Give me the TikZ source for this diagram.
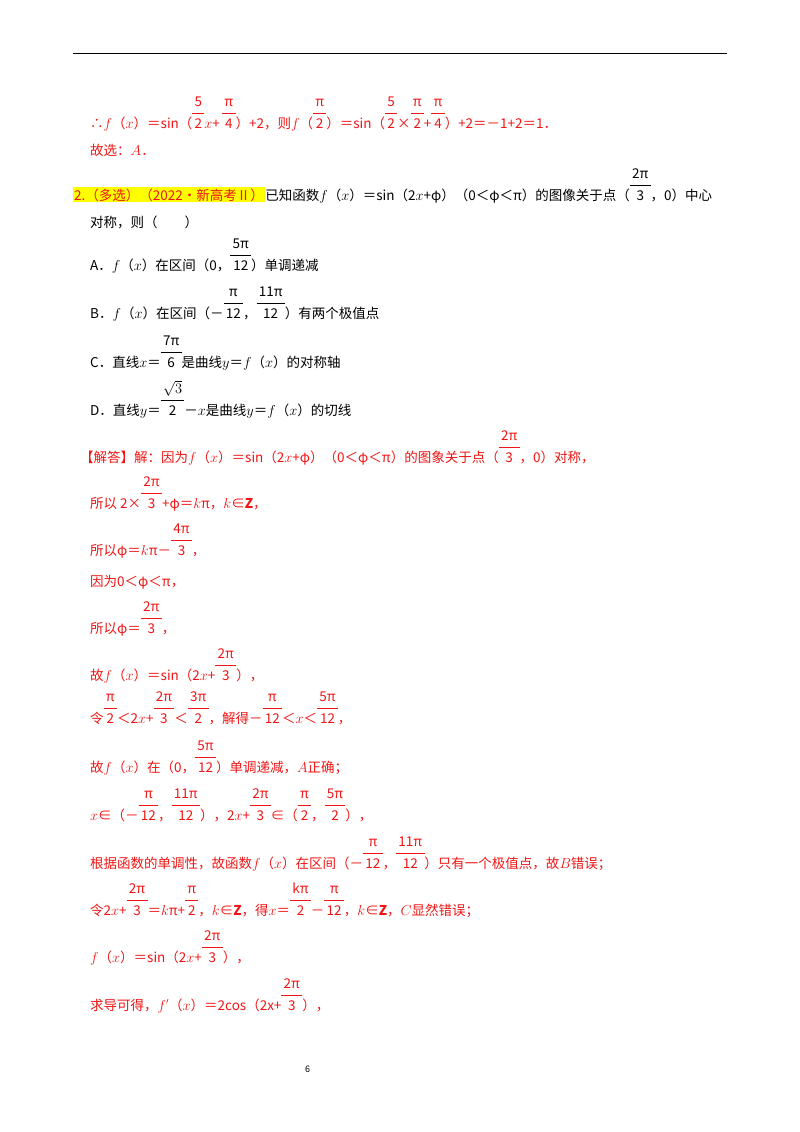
\documentclass[tikz,border=0pt]{standalone}
\usepackage{fontspec}
\setmainfont{Noto Sans CJK SC}
\definecolor{rd}{RGB}{240,20,20}
\definecolor{hl}{RGB}{255,255,0}
\newcommand\fr[2]{{\renewcommand\arraystretch{1.3}\begin{tabular}[b]{@{\,}c@{\,}}#1\\\hline #2\end{tabular}}}
\newcommand\fx{$f$（$x$）}
\tikzset{ln/.style={anchor=base west,inner sep=0pt,font=\fontsize{13.5}{16}\selectfont}}
\begin{document}
\begin{tikzpicture}[x=1pt,y=-1pt]
\useasboundingbox (0,0) rectangle (800,1132);
\draw[line width=0.8pt] (73,53) -- (727,53);
\node[ln,text=rd] (l1) at (90,128) {∴\fx＝sin（\fr{5}{2}$x$+\,\fr{π}{4}）+2，则$f$（\fr{π}{2}）＝sin（\fr{5}{2}×\fr{π}{2}+\fr{π}{4}）+2＝－1+2＝1．};
\node[ln,text=rd] (l2) at (90,155) {故选：$A$．};
\node[ln,text=rd,fill=hl,inner sep=1pt] (q) at (73,200) {2.（多选）（2022•新高考Ⅱ）};
\node[ln,anchor=base west] (q2) at (q.base east) {已知函数\fx＝sin（2$x$+φ）（0＜φ＜π）的图像关于点（\fr{2π}{3}，0）中心};
\node[ln] (q3) at (90,227) {对称，则（\quad\quad）};
\node[ln] (a) at (90,270) {A．\fx 在区间（0，\fr{5π}{12}）单调递减};
\node[ln] (b) at (90,318) {B．\fx 在区间（－\fr{π}{12}，\fr{11π}{12}）有两个极值点};
\node[ln] (c) at (90,367) {C．直线$x$＝\fr{7π}{6}是曲线$y$＝\fx 的对称轴};
\node[ln] (d) at (90,415) {D．直线$y$＝\fr{$\sqrt{3}$}{2}－$x$是曲线$y$＝\fx 的切线};
\node[ln,text=rd] (s1) at (80,462) {【解答】解：因为\fx＝sin（2$x$+φ）（0＜φ＜π）的图象关于点（\fr{2π}{3}，0）对称，};
\node[ln,text=rd] (s2) at (90,508) {所以 2×\fr{2π}{3}+φ＝$k$π，$k$∈$\mathbf{Z}$，};
\node[ln,text=rd] (s3) at (90,555) {所以φ＝$k$π－\fr{4π}{3}，};
\node[ln,text=rd] (s4) at (90,586) {因为0＜φ＜π，};
\node[ln,text=rd] (s5) at (90,633) {所以φ＝\fr{2π}{3}，};
\node[ln,text=rd] (s6) at (90,680) {故\fx＝sin（2$x$+\fr{2π}{3}），};
\node[ln,text=rd] (s7) at (90,723) {令\fr{π}{2}＜2$x$+\fr{2π}{3}＜\fr{3π}{2}，解得－\fr{π}{12}＜$x$＜\fr{5π}{12}，};
\node[ln,text=rd] (s8) at (90,772) {故\fx 在（0，\fr{5π}{12}）单调递减，$A$正确；};
\node[ln,text=rd] (s9) at (90,820) {$x$∈（－\fr{π}{12}，\fr{11π}{12}），2$x$+\fr{2π}{3}∈（\fr{π}{2}，\fr{5π}{2}），};
\node[ln,text=rd] (s10) at (90,868) {根据函数的单调性，故函数\fx 在区间（－\fr{π}{12}，\fr{11π}{12}）只有一个极值点，故$B$错误；};
\node[ln,text=rd] (s11) at (90,915) {令2$x$+\fr{2π}{3}＝$k$π+\fr{π}{2}，$k$∈$\mathbf{Z}$，得$x$＝\fr{kπ}{2}－\fr{π}{12}，$k$∈$\mathbf{Z}$，$C$显然错误；};
\node[ln,text=rd] (s12) at (90,962) {\fx＝sin（2$x$+\fr{2π}{3}），};
\node[ln,text=rd] (s13) at (90,1010) {求导可得，$f'$（$x$）＝2cos（2x+\fr{2π}{3}），};
\node[ln,font=\fontsize{9}{10}\selectfont] (pg) at (305,1072) {6};
\end{tikzpicture}
\end{document}
